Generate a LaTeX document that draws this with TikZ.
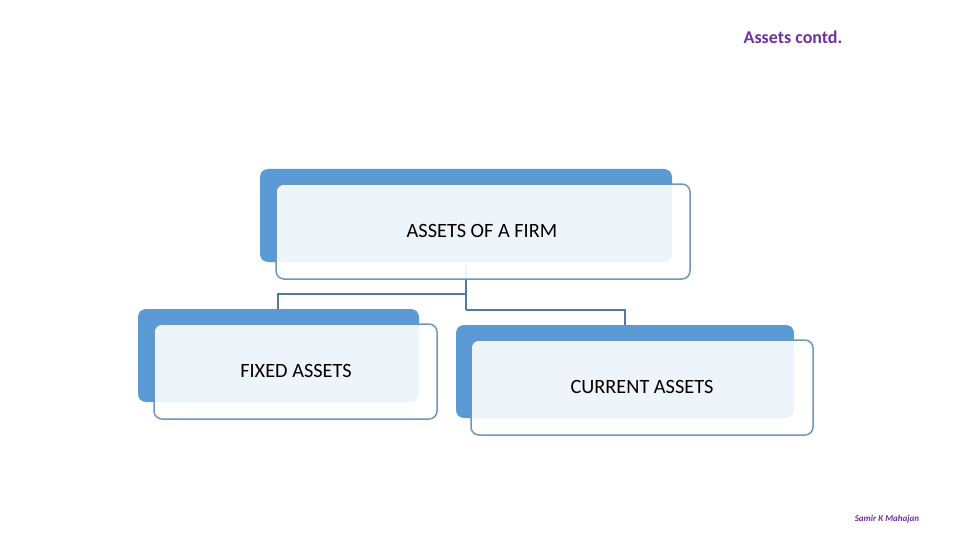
\documentclass[tikz,border=0pt]{standalone}
\usepackage{fontspec}
\setmainfont{Carlito}
\definecolor{backblue}{HTML}{5B9BD5}
\definecolor{edgeblue}{HTML}{7096BB}
\definecolor{linkblue}{HTML}{54799E}
\definecolor{titlepurple}{HTML}{7030A0}
\begin{document}
\begin{tikzpicture}[x=1pt,y=-1pt,
  backbox/.style={fill=backblue,rounded corners=8pt},
  frontbox/.style={draw=edgeblue,line width=1.5pt,fill=white,fill opacity=0.9,rounded corners=8pt},
  label/.style={font=\fontsize{20.3}{22}\selectfont,text=black},
  link/.style={draw=linkblue,line width=1.5pt}]
\useasboundingbox (0,0) rectangle (960,540);
% connectors
\coordinate (topout) at (466,265);
\coordinate (jl) at (466,294);
\coordinate (jr) at (466,310);
\coordinate (fixin) at (278,309);
\coordinate (curin) at (625,325);
\draw[link] (topout) -- (jr);
\draw[link] (jl) -| (fixin);
\draw[link] (jr) -| (curin);
% top box
\fill[backbox] (260,169) rectangle (672,262);
\draw[frontbox] (276,184) rectangle (690,279);
\node[label] (firm) at (482,231) {ASSETS OF A FIRM};
% fixed
\fill[backbox] (138,309) rectangle (419,402);
\draw[frontbox] (154,324) rectangle (437,419);
\node[label] (fixed) at (296,371) {FIXED ASSETS};
% current
\fill[backbox] (456,325) rectangle (794,418);
\draw[frontbox] (471,340) rectangle (813,435);
\node[label] (current) at (642,387) {CURRENT ASSETS};
% titles
\node[font=\bfseries\fontsize{18}{20}\selectfont,text=titlepurple] (title) at (793,37) {Assets contd.};
\node[font=\bfseries\itshape\fontsize{9}{10}\selectfont,text=titlepurple] (author) at (887,519) {Samir K Mahajan};
\end{tikzpicture}
\end{document}
